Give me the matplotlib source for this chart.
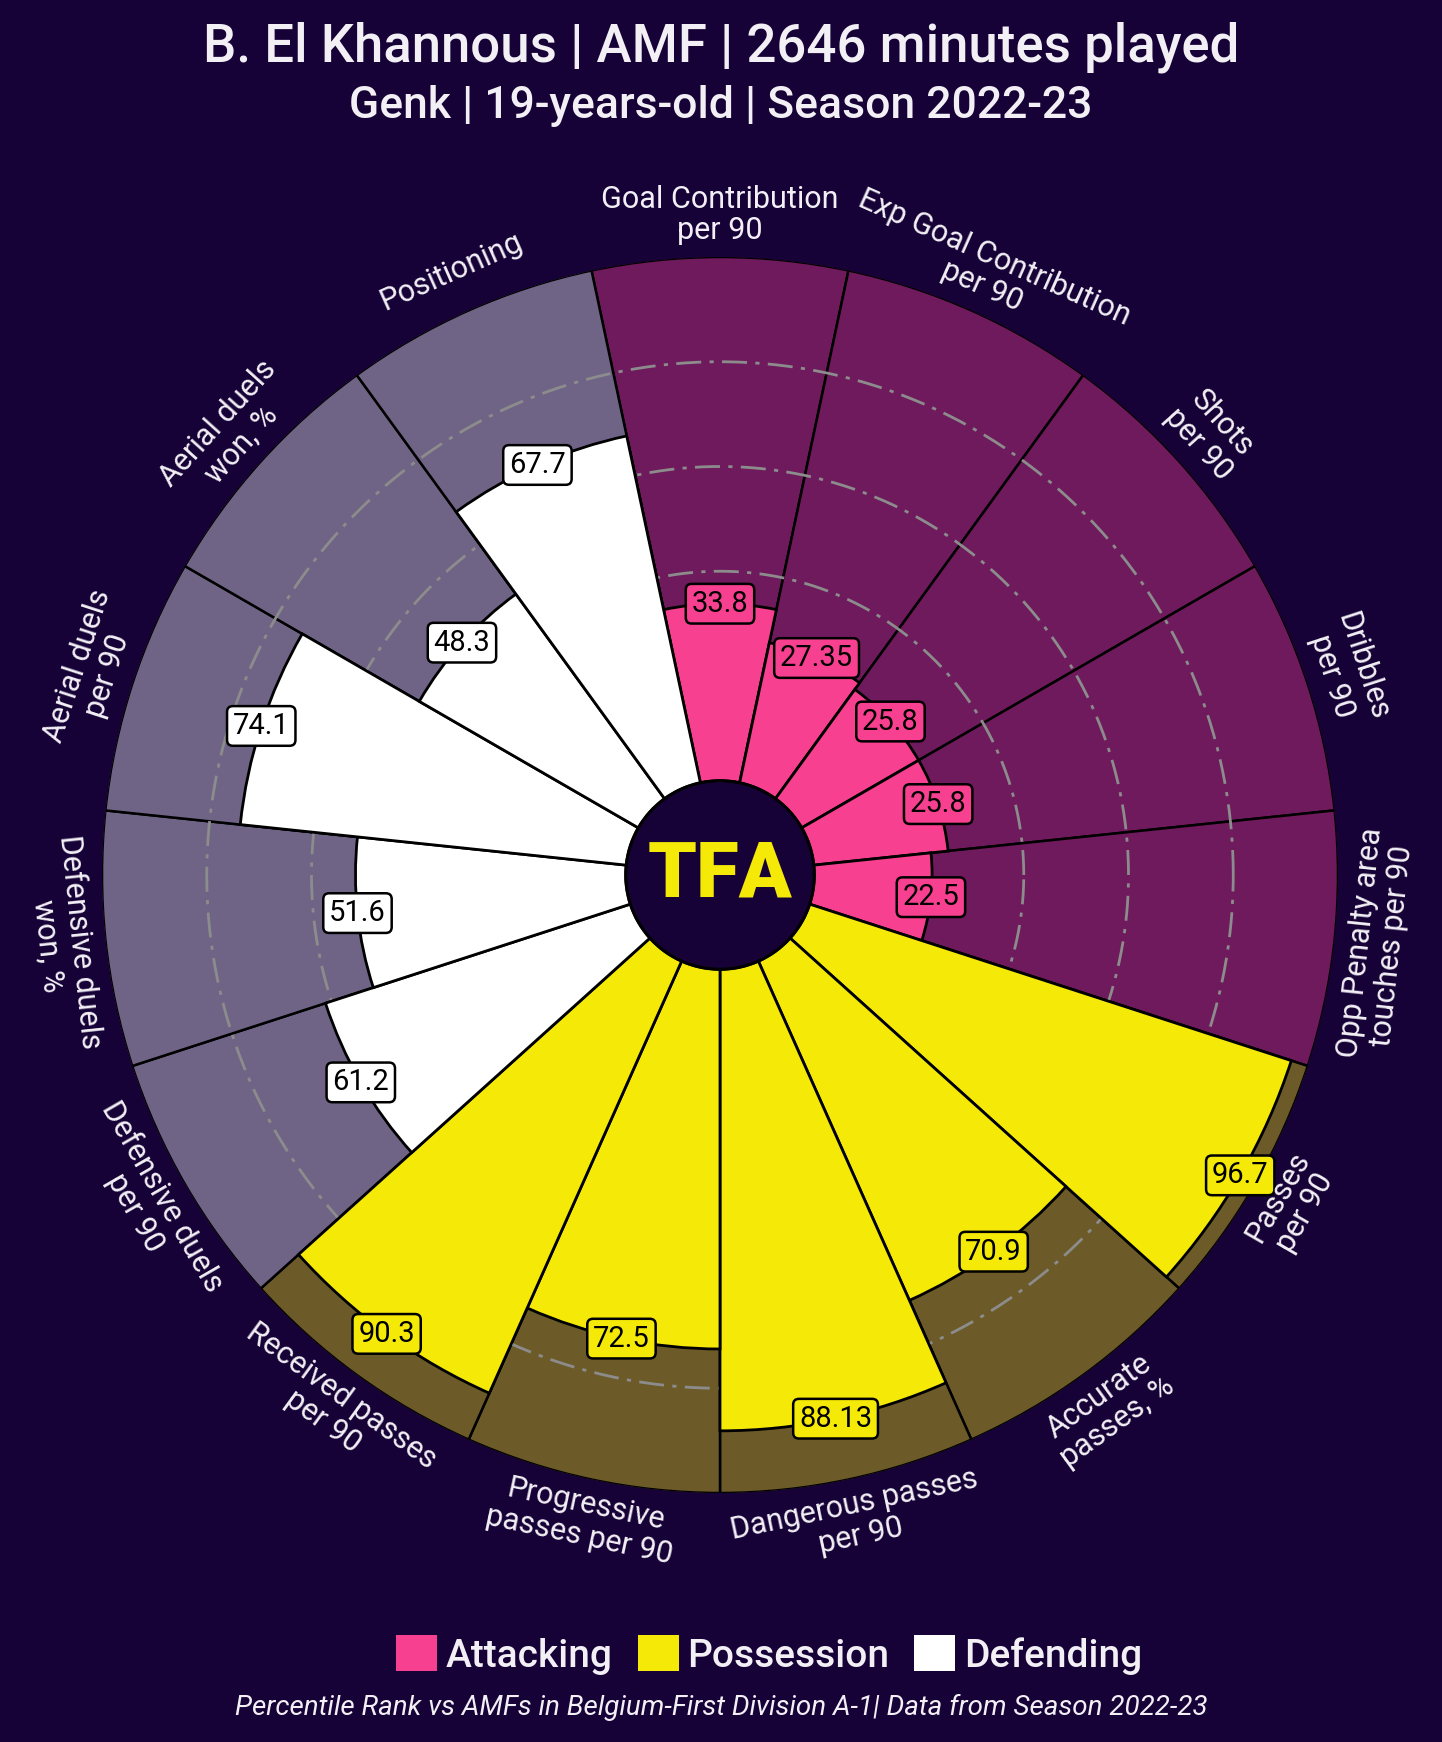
import numpy as np
import matplotlib
matplotlib.use("Agg")
import matplotlib.pyplot as plt
from matplotlib.patches import Patch

# ---------------- data ----------------
params = ["Goal Contribution\nper 90", "Exp Goal Contribution\nper 90", "Shots\nper 90",
          "Dribbles\nper 90", "Opp Penalty area\ntouches per 90", "Passes\nper 90",
          "Accurate\npasses, %", "Dangerous passes\nper 90", "Progressive\npasses per 90",
          "Received passes\nper 90", "Defensive duels\nper 90", "Defensive duels\nwon, %",
          "Aerial duels\nper 90", "Aerial duels\nwon, %", "Positioning"]
values = [33.8, 27.35, 25.8, 25.8, 22.5,
          96.7, 70.9, 88.13, 72.5, 90.3,
          61.2, 51.6, 74.1, 48.3, 67.7]
value_labels = ["33.8", "27.35", "25.8", "25.8", "22.5",
                "96.7", "70.9", "88.13", "72.5", "90.3",
                "61.2", "51.6", "74.1", "48.3", "67.7"]
groups = ["Attacking"] * 5 + ["Possession"] * 5 + ["Defending"] * 5
group_names = ["Attacking", "Possession", "Defending"]
ring_values = [20, 40, 60, 80]

title = "B. El Khannous | AMF | 2646 minutes played"
subtitle = "Genk | 19-years-old | Season 2022-23"
footer = "Percentile Rank vs AMFs in Belgium-First Division A-1| Data from Season 2022-23"

# ---------------- style ----------------
BG = "#170238"
bar_color = {"Attacking": "#F7408F", "Possession": "#F5E907", "Defending": "#FFFFFF"}
slice_color = {"Attacking": "#6F1A5C", "Possession": "#6C5B28", "Defending": "#706486"}
TXT = "#F2F0F5"
plt.rcParams["font.family"] = ["Roboto", "DejaVu Sans"]

W, H = 1442, 1742
fig = plt.figure(figsize=(W / 100, H / 100), dpi=100, facecolor=BG)

cx, cy, R = 720, 875, 618
ax = fig.add_axes([(cx - R) / W, (H - cy - R) / H, 2 * R / W, 2 * R / H], projection="polar")
ax.set_facecolor(BG)
ax.set_axis_off()

inner = 18
ax.set_ylim(0, inner + 100)

n = len(values)
step = 2 * np.pi / n
theta = np.deg2rad(90) - step * np.arange(n)

bg_cols = [slice_color[g] for g in groups]
fg_cols = [bar_color[g] for g in groups]

ax.bar(theta, [100] * n, width=step, bottom=inner, color=bg_cols,
       edgecolor="black", linewidth=1.8, zorder=1)

tt = np.linspace(0, 2 * np.pi, 500)
for rv in ring_values:
    ax.plot(tt, np.full_like(tt, inner + rv), color="#8C8C8C", lw=2.0,
            ls=(0, (9, 3, 1.5, 3)), zorder=2)

ax.bar(theta, values, width=step, bottom=inner, color=fg_cols,
       edgecolor="black", linewidth=2.0, zorder=3)

# inner circle / logo
ax.fill(tt, np.full_like(tt, inner), color=BG, zorder=6)
ax.plot(tt, np.full_like(tt, inner), color="black", lw=2.2, zorder=7)
ax.text(0.5, 0.5, "TFA", transform=ax.transAxes, ha="center", va="center",
        fontsize=56, fontweight="black", color="#F5E907", zorder=8)

# value boxes
for th, v, lab, c in zip(theta, values, value_labels, fg_cols):
    ax.text(th, inner + v, lab, ha="center", va="center", fontsize=21, color="black",
            zorder=9,
            bbox=dict(boxstyle="round,pad=0.2", fc=c, ec="black", lw=1.8))

# param labels
for th, p in zip(theta, params):
    deg = np.rad2deg(th)
    rot = deg - 90
    if np.sin(th) < -1e-6:
        rot += 180
    ax.text(th, 126, p, ha="center", va="center", rotation=rot, rotation_mode="anchor",
            fontsize=22, color=TXT, linespacing=1.12, zorder=9, clip_on=False)

# titles
fig.text(0.5, 1 - 47 / H, title, ha="center", va="center", fontsize=38,
         fontweight="medium", color=TXT)
fig.text(0.5, 1 - 106 / H, subtitle, ha="center", va="center", fontsize=32,
         fontweight="medium", color=TXT)

# legend
handles = [Patch(facecolor=bar_color[g], edgecolor="none") for g in group_names]
leg = fig.legend(handles, group_names, loc="center", bbox_to_anchor=(769 / W, 1 - 1655 / H),
                 ncol=3, frameon=False, fontsize=28, handlelength=1.05, handleheight=1.05,
                 handletextpad=0.22, columnspacing=0.65)
for t in leg.get_texts():
    t.set_color(TXT)
    t.set_fontweight("medium")

fig.text(0.5, 1 - 1707 / H, footer, ha="center", va="center", fontsize=20,
         style="italic", color=TXT)

fig.savefig("out.png", dpi=100, facecolor=BG)
